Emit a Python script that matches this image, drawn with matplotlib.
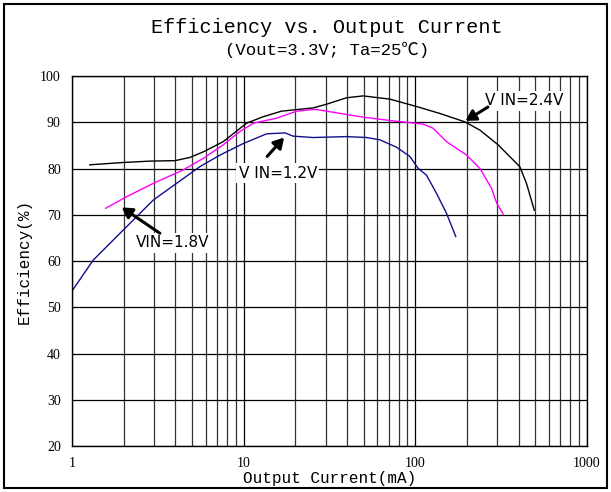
import numpy as np
import matplotlib
matplotlib.use("Agg")
import matplotlib.pyplot as plt
from matplotlib.patches import Rectangle

MONO = ["Liberation Mono", "Noto Sans CJK SC", "DejaVu Sans"]

# ---- data (output current in mA, efficiency in %)
i_24 = [1.27, 1.99, 2.85, 3.98, 4.87, 5.82, 7.6, 10.4, 13.0, 16.6, 25.4, 30.4,
        39.8, 49.7, 71.1, 101.8, 139, 194, 238, 304, 406, 444, 493]
eff_24 = [80.8, 81.3, 81.6, 81.7, 82.4, 83.6, 85.8, 89.8, 91.2, 92.4, 93.1, 93.9,
          95.3, 95.7, 95.0, 93.4, 91.9, 90.1, 88.3, 85.1, 80.4, 76.8, 71.0]

i_18 = [1.57, 2.08, 2.98, 4.45, 5.82, 7.6, 9.5, 11.4, 15.6, 20.4, 26.0, 30.4,
        49.7, 74.3, 111, 127, 152, 199, 238, 278, 298, 325]
eff_18 = [71.4, 73.9, 76.8, 79.7, 82.2, 85.1, 88.0, 89.8, 90.9, 92.4, 92.8, 92.4,
          91.1, 90.3, 89.6, 88.7, 85.8, 82.9, 80.0, 75.7, 72.5, 70.1]

i_12 = [1.0, 1.33, 1.99, 2.98, 4.07, 5.56, 7.28, 9.95, 13.6, 17.4, 19.4, 25.4,
        39.8, 52.0, 62.2, 77.8, 93, 104, 116, 133, 152, 172]
eff_12 = [53.5, 60.2, 66.7, 73.2, 76.8, 80.4, 82.9, 85.4, 87.5, 87.7, 87.0, 86.7,
          86.9, 86.7, 86.2, 84.6, 82.6, 80.0, 78.6, 74.6, 70.3, 65.3]

# label text, text centre, arrow tail, arrow tip (data coords)
notes = [("V IN=2.4V", (429, 94.6), (265, 93.3), (196, 90.3)),
         ("V IN=1.2V", (15.8, 79.0), (13.7, 82.6), (17.2, 86.7)),
         ("VIN=1.8V", (3.87, 63.9), (3.25, 66.0), (1.95, 71.6))]

fig = plt.figure(figsize=(6.11, 4.92), dpi=100)
ax = fig.add_axes([0.1178, 0.0935, 0.8429, 0.752])

ax.plot(i_24, eff_24, color="black", lw=1.0)
ax.plot(i_18, eff_18, color="#ff00ff", lw=1.0)
ax.plot(i_12, eff_12, color="#10108c", lw=1.0)

ax.set_xscale("log")
ax.set_xlim(1, 1000)
ax.set_ylim(20, 100)
ax.set_yticks(np.arange(20, 101, 10))
ax.set_xticks([1, 10, 100, 1000])
ax.set_xticklabels(["1", "10", "100", "1000"])
ax.grid(True, which="major", color="black", lw=0.9)
ax.grid(True, which="minor", axis="x", color="#333333", lw=0.9)
ax.tick_params(which="both", length=0, pad=8)
for lab in ax.get_xticklabels() + ax.get_yticklabels():
    lab.set_family("Liberation Serif")
    lab.set_fontsize(10)
for s in ax.spines.values():
    s.set_color("black")
    s.set_linewidth(1.0)

ax.set_xlabel("Output Current(mA)", family=MONO, fontsize=11.5, labelpad=1)
ax.set_ylabel("Efficiency(%)", family=MONO, fontsize=11.5, labelpad=6)

for txt, pos, tail, tip in notes:
    ax.text(pos[0], pos[1], txt, fontsize=11, family="DejaVu Sans",
            ha="center", va="center", color="black", zorder=4,
            bbox=dict(boxstyle="square,pad=0.15", fc="white", ec="none"))
    ax.annotate("", xy=tip, xytext=tail, zorder=5,
                arrowprops=dict(arrowstyle="-|>,head_length=0.6,head_width=0.35",
                                color="black", lw=2.2, shrinkA=0, shrinkB=0))

fig.text(0.535, 0.945, "Efficiency vs. Output Current", family=MONO,
         fontsize=14.5, ha="center", va="center")
fig.text(0.535, 0.898, "(Vout=3.3V; Ta=25℃)", family=MONO,
         fontsize=12.5, ha="center", va="center")

fig.patches.append(Rectangle((0.007, 0.008), 0.986, 0.984, transform=fig.transFigure,
                             fill=False, ec="black", lw=1.5))

fig.savefig("out.png", dpi=100)
